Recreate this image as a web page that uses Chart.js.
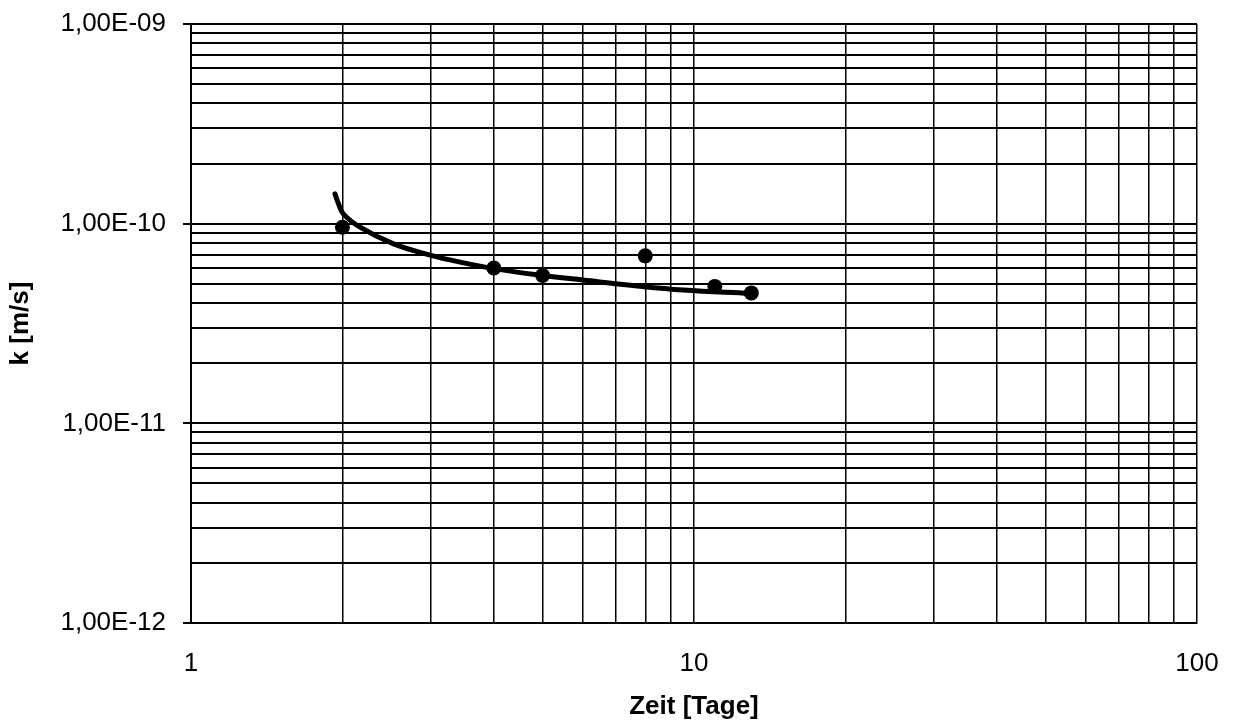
<!DOCTYPE html>
<html><head><meta charset="utf-8">
<script src="https://cdn.jsdelivr.net/npm/chart.js@4/dist/chart.umd.min.js"></script>
<style>html,body{margin:0;padding:0;background:#fff}</style>
</head><body>
<canvas id="c" width="1237" height="725"></canvas>
<script>
// measured points
const measTime = [2, 4, 5, 8, 11, 13];
const measK = [9.6e-11, 6.0e-11, 5.5e-11, 6.9e-11, 4.85e-11, 4.5e-11];
// fitted curve
const fitTime = [1.933, 1.964, 2.008, 2.168, 2.521, 2.987, 3.426, 4.058, 5.01, 6.02, 7.56, 9.51, 12.92];
const fitK = [1.41e-10, 1.26e-10, 1.12e-10, 9.6e-11, 7.94e-11, 6.96e-11, 6.42e-11, 5.92e-11, 5.50e-11, 5.22e-11, 4.90e-11, 4.65e-11, 4.47e-11];
// axis ticks
const xTickValues = [1,2,3,4,5,6,7,8,9,10,20,30,40,50,60,70,80,90,100];
const xTickLabels = {"1":"1","10":"10","100":"100"};
const yTickValues = [1e-12,2e-12,3e-12,4e-12,5e-12,6e-12,7e-12,8e-12,9e-12,
                     1e-11,2e-11,3e-11,4e-11,5e-11,6e-11,7e-11,8e-11,9e-11,
                     1e-10,2e-10,3e-10,4e-10,5e-10,6e-10,7e-10,8e-10,9e-10,1e-9];
const yTickLabels = {"-12":"1,00E-12","-11":"1,00E-11","-10":"1,00E-10","-9":"1,00E-09"};

function isDecade(v){const l=Math.log10(v);return Math.abs(l-Math.round(l))<1e-6;}

const FONT = "'Liberation Sans', Arial, sans-serif";
const ctx = document.getElementById('c').getContext('2d');
new Chart(ctx, {
  type: 'scatter',
  data: {
    datasets: [
      {
        label: 'fit',
        data: fitTime.map((t,i)=>({x:t,y:fitK[i]})),
        showLine: true,
        borderColor: '#000',
        borderWidth: 5,
        borderCapStyle: 'round',
        borderJoinStyle: 'round',
        pointRadius: 0,
        tension: 0.4,
        fill: false
      },
      {
        label: 'k',
        data: measTime.map((t,i)=>({x:t,y:measK[i]})),
        showLine: false,
        pointRadius: 7.5,
        pointBackgroundColor: '#000',
        pointBorderColor: '#000',
        pointBorderWidth: 0
      }
    ]
  },
  options: {
    responsive: false,
    animation: false,
    devicePixelRatio: 1,
    layout: { padding: { left: 0, top: 24, right: 40, bottom: 0 } },
    plugins: { legend: { display: false }, tooltip: { enabled: false } },
    scales: {
      x: {
        type: 'logarithmic',
        min: 1, max: 100,
        afterBuildTicks: s => { s.ticks = xTickValues.map(v=>({value:v})); },
        afterFit: s => { s.height = 102; s.paddingLeft = 0; s.paddingRight = 0; },
        ticks: {
          autoSkip: false, maxRotation: 0, padding: 17,
          color: '#000', font: { family: FONT, size: 26 },
          callback: v => xTickLabels[String(v)] || ''
        },
        grid: { color: '#000', lineWidth: 1.5, tickLength: 8, tickColor: 'rgba(0,0,0,0)' },
        border: { color: '#000', width: 2 },
        title: { display: true, text: 'Zeit [Tage]', color: '#000',
                 font: { family: FONT, size: 26, weight: 'bold' }, padding: { top: 0, bottom: 3 } }
      },
      y: {
        type: 'logarithmic',
        min: 1e-12, max: 1e-9,
        afterBuildTicks: s => { s.ticks = yTickValues.map(v=>({value:v})); },
        afterFit: s => { s.width = 191; s.paddingTop = 0; s.paddingBottom = 0; },
        ticks: {
          autoSkip: false, padding: 17,
          color: '#000', font: { family: FONT, size: 26 },
          callback: v => isDecade(v) ? (yTickLabels[String(Math.round(Math.log10(v)))] || '') : ''
        },
        grid: { color: '#000', lineWidth: 2, tickLength: 8,
                tickColor: c => (c.tick && isDecade(c.tick.value)) ? '#000' : 'rgba(0,0,0,0)' },
        border: { color: '#000', width: 2 },
        title: { display: true, text: 'k [m/s]', color: '#000',
                 font: { family: FONT, size: 26, weight: 'bold' }, padding: { top: 5, bottom: 0 } }
      }
    }
  }
});
</script>
</body></html>
